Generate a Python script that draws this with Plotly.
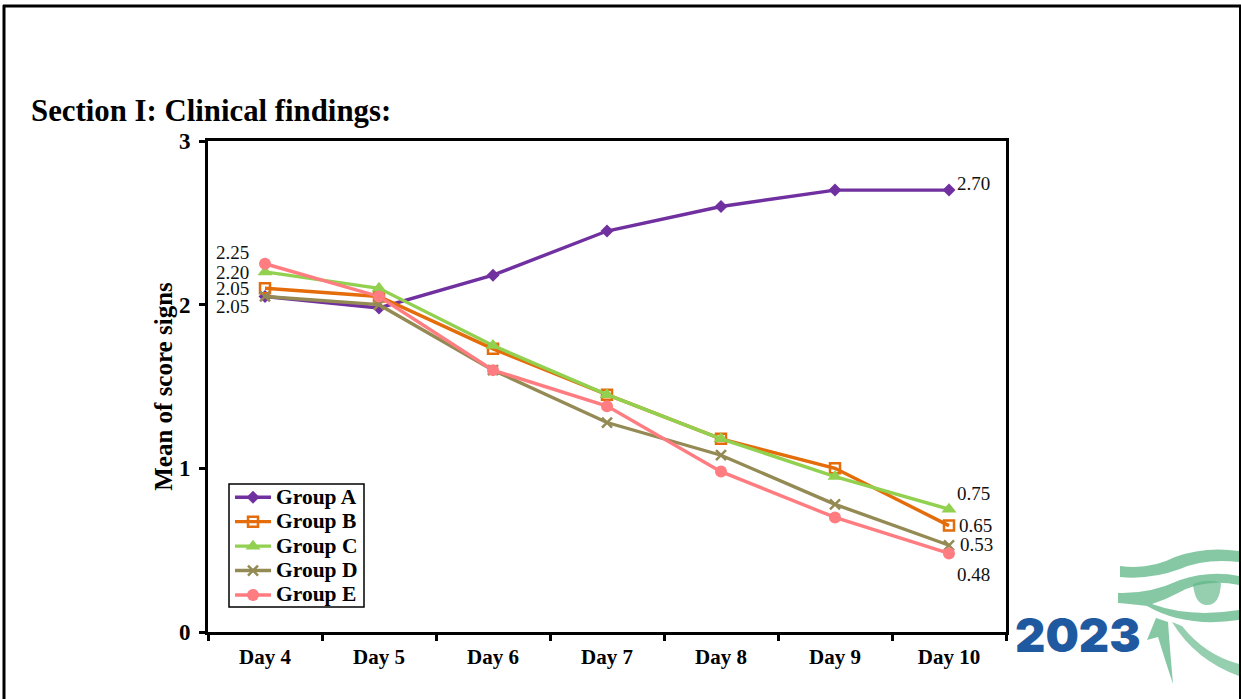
import plotly.graph_objects as go

days = ["Day 4", "Day 5", "Day 6", "Day 7", "Day 8", "Day 9", "Day 10"]
group_a = [2.05, 1.98, 2.18, 2.45, 2.60, 2.70, 2.70]
group_b = [2.10, 2.05, 1.73, 1.45, 1.18, 1.00, 0.65]
group_c = [2.20, 2.10, 1.75, 1.45, 1.18, 0.95, 0.75]
group_d = [2.05, 2.00, 1.60, 1.28, 1.08, 0.78, 0.53]
group_e = [2.25, 2.05, 1.60, 1.38, 0.98, 0.70, 0.48]
y_ticks = [0, 1, 2, 3]

left_labels = ["2.25", "2.20", "2.05", "2.05"]
left_label_values = [2.25, 2.20, 2.10, 2.05]
left_label_shifts = [11, -1, 0, -10]
right_labels = ["2.70", "0.75", "0.65", "0.53", "0.48"]
right_label_values = [2.70, 0.75, 0.65, 0.53, 0.48]
right_label_shifts = [(6, 7), (6, 16), (8, 0), (9, 1), (6, -21)]

SERIF = "Liberation Serif"
W, H = 1241, 699
L, R, T, B = 208, 1006, 141, 632

series = [
    ("Group A", group_a, "#7030A0", dict(symbol="diamond", size=10)),
    ("Group B", group_b, "#E46C0A", dict(symbol="square-open", size=10, line=dict(width=2.5, color="#E46C0A"))),
    ("Group C", group_c, "#92D050", dict(symbol="triangle-up", size=13)),
    ("Group D", group_d, "#948A54", dict(symbol="x-thin", size=10, line=dict(width=2.5, color="#948A54"))),
    ("Group E", group_e, "#FF7C80", dict(symbol="circle", size=12)),
]

fig = go.Figure()
for name, vals, color, marker in series:
    fig.add_trace(go.Scatter(x=days, y=vals, name=f'<span style="font-size:21.5px">{name}</span>',
                             mode="lines+markers",
                             line=dict(color=color, width=3.4),
                             marker=dict(color=color, **marker)))

annotations = []
for text, val, dy in zip(left_labels, left_label_values, left_label_shifts):
    annotations.append(dict(x=days[0], y=val, text=text, showarrow=False, xanchor="center",
                            xshift=-33, yshift=dy, font=dict(family=SERIF, size=19, color="#111")))
for text, val, (dx, dy) in zip(right_labels, right_label_values, right_label_shifts):
    annotations.append(dict(x=days[-1], y=val, text=text, showarrow=False, xanchor="left",
                            xshift=dx, yshift=dy, font=dict(family=SERIF, size=19, color="#111")))


def px(x):
    return (x - L) / (R - L)


def py(y):
    return (B - y) / (B - T)


annotations.append(dict(xref="paper", yref="paper", x=px(29), y=py(111),
                        text="<b>Section I: Clinical findings:</b>",
                        showarrow=False, xanchor="left", yanchor="middle",
                        font=dict(family=SERIF, size=30.8, color="#000")))
annotations.append(dict(xref="paper", yref="paper", x=px(1078), y=py(634), text="2023",
                        showarrow=False, xanchor="center", yanchor="middle",
                        font=dict(family="Inter", size=47, color="#1F5AA0", weight=900)))


def frame_line(x0, y0, x1, y1, width=3):
    return dict(type="line", xref="paper", yref="paper", x0=px(x0), y0=py(y0), x1=px(x1), y1=py(y1),
                line=dict(color="#000", width=width))


def logo_shape(parts, opacity=0.85):
    cmd = ""
    for c, pts in parts:
        cmd += c + " " + " ".join(f"{px(a):.5f},{py(b):.5f}" for a, b in pts) + " "
    return dict(type="path", xref="paper", yref="paper", path=cmd + "Z", opacity=opacity,
                fillcolor="#5DB585", line=dict(width=0), layer="below")


shapes = [
    frame_line(4, 5, 4, 699, 3),
    frame_line(3, 6, 1241, 6, 3),
    frame_line(1240, 5, 1240, 699, 2),
    dict(type="rect", xref="paper", yref="paper", x0=px(229), y0=py(484), x1=px(364), y1=py(607),
         fillcolor="white", line=dict(color="#000", width=1.5), layer="below"),
    logo_shape([("M", [(1120, 566)]), ("Q", [(1150, 570), (1175, 557)]), ("Q", [(1205, 546), (1239, 551)]),
                ("L", [(1239, 562)]), ("Q", [(1205, 558), (1180, 569)]), ("Q", [(1150, 580), (1120, 577)])], 0.75),
    logo_shape([("M", [(1118, 593)]), ("Q", [(1150, 594), (1180, 580)]), ("Q", [(1210, 570), (1239, 576)]),
                ("L", [(1239, 585)]), ("Q", [(1205, 578), (1178, 593)]), ("Q", [(1165, 600), (1152, 604)]),
                ("Q", [(1190, 618), (1239, 610)]), ("L", [(1239, 620)]), ("Q", [(1185, 628), (1147, 606)]),
                ("Q", [(1130, 604), (1118, 603)])], 0.75),
    logo_shape([("M", [(1193, 584)]), ("Q", [(1195, 605), (1207, 605)]), ("Q", [(1220, 605), (1221, 583)]),
                ("Q", [(1207, 578), (1193, 584)])], 0.65),
    logo_shape([("M", [(1156, 618)]), ("L", [(1168, 622)]), ("Q", [(1170, 650), (1173, 684)]),
                ("Q", [(1165, 660), (1158, 637)]), ("L", [(1147, 640)])], 0.75),
    logo_shape([("M", [(1172, 622)]), ("L", [(1182, 626)]), ("Q", [(1205, 655), (1239, 664)]),
                ("L", [(1239, 676)]), ("Q", [(1195, 660), (1172, 622)])], 0.65),
]

fig.update_layout(
    width=W, height=H, autosize=False,
    margin=dict(l=L, r=W - R, t=T, b=H - B),
    paper_bgcolor="white", plot_bgcolor="white",
    font=dict(family=SERIF, color="#000"),
    showlegend=True,
    legend=dict(x=px(230), y=py(480), xanchor="left", yanchor="top",
                bgcolor="rgba(0,0,0,0)", borderwidth=0,
                font=dict(family=SERIF, size=16.5, weight="bold"), itemwidth=36,
                tracegroupgap=0, traceorder="normal"),
    annotations=annotations,
    shapes=shapes,
)
fig.update_xaxes(type="category", categoryorder="array", categoryarray=days, range=[-0.5, 6.5],
                 tickson="boundaries", ticks="outside", ticklen=6, tickwidth=2.5, tickcolor="#000",
                 showline=True, linecolor="#000", linewidth=3, mirror=True, showgrid=False, zeroline=False,
                 ticklabelstandoff=4,
                 tickfont=dict(family=SERIF, size=21, weight="bold", color="#000"))
fig.update_yaxes(range=[0, 3], tickvals=y_ticks, ticktext=[str(v) for v in y_ticks],
                 ticks="outside", ticklen=6, tickwidth=2.5, tickcolor="#000",
                 showline=True, linecolor="#000", linewidth=3, mirror=True, showgrid=False, zeroline=False,
                 ticklabelstandoff=4,
                 tickfont=dict(family=SERIF, size=23, weight="bold", color="#000"),
                 title=dict(text="Mean of score signs", standoff=0,
                            font=dict(family=SERIF, size=25, weight="bold", color="#000")))

fig.write_html("out.html", config=dict(displayModeBar=False),
               post_script="document.body.style.margin='0';document.body.style.overflow='hidden';")
